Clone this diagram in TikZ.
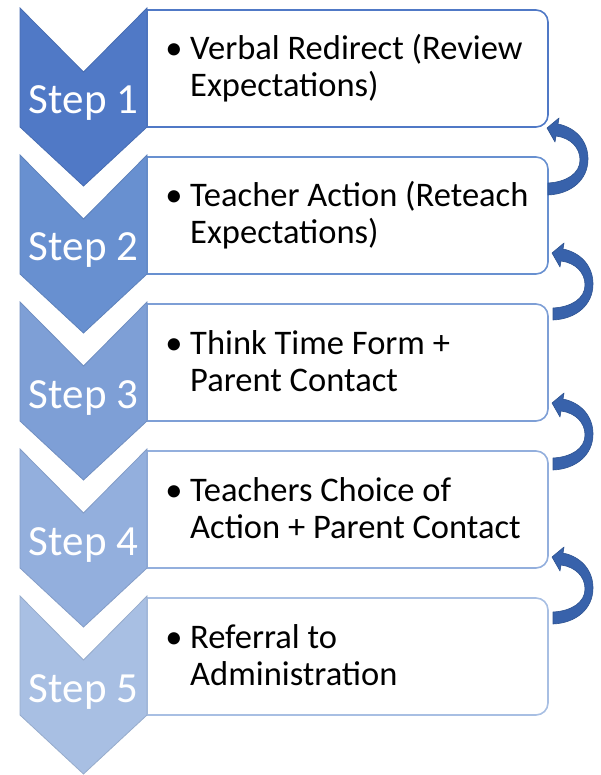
\documentclass[tikz,border=0pt]{standalone}
\usepackage{fontspec}
\setmainfont{Carlito}
\definecolor{cA}{HTML}{5079C6}
\definecolor{cB}{HTML}{6890D0}
\definecolor{cC}{HTML}{7E9FD6}
\definecolor{cD}{HTML}{93AFDD}
\definecolor{cE}{HTML}{A8BFE3}
\definecolor{arrowfill}{HTML}{3862AB}
\definecolor{arrowline}{HTML}{2E5391}
\newcommand\loopback[2]{%
  \begin{scope}[shift={(#1,#2)}]
    \path[backarrow] (0,0) -- (12,-10) -- (11,-4)
      .. controls (30,0) and (41,14) .. (41,31)
      .. controls (41,52) and (24,66) .. (1,67) -- (1,55)
      .. controls (20,54) and (33,45) .. (33,32)
      .. controls (33,20) and (24,10) .. (9,8) -- (8,14) -- cycle;
  \end{scope}}
\begin{document}
\begin{tikzpicture}[x=1pt,y=-1pt,
  chev/.style={fill=#1, draw=#1!90!black, line width=0.8pt, line join=miter},
  stepbox/.style={fill=white, draw=#1, line width=1.6pt},
  steptext/.style={anchor=base, text=white, font=\fontsize{43}{50}\selectfont, inner sep=0pt},
  bul/.style={anchor=base, font=\fontsize{34.5}{37}\selectfont, inner sep=0pt},
  bodytext/.style={anchor=base west, inner sep=0pt, align=left},
  backarrow/.style={fill=arrowfill, draw=arrowline, line width=0.6pt, line join=round}]
\useasboundingbox (0,0) rectangle (601,775);
\foreach \k/\t/\col/\la/\lb in {
  1/8/cA/Verbal Redirect (Review/Expectations),
  2/155/cB/Teacher Action (Reteach/Expectations),
  3/302/cC/Think Time Form +/Parent Contact,
  4/449/cD/Teachers Choice of/Action + Parent Contact,
  5/596/cE/Referral to/Administration}{
  \draw[stepbox=\col] (147,\t+2) -- (520,\t+2) [rounded corners=12pt] -- (548,\t+2) -- (548,\t+119) -- (520,\t+119) [sharp corners] -- (147,\t+119) -- cycle;
  \draw[chev=\col] (20,\t) -- (83.5,\t+64) -- (147,\t) -- (147,\t+119) -- (83.5,\t+178) -- (20,\t+119) -- cycle;
  \node[steptext] (s\k) at (83.5,\t+106) {Step \k};
  \node[bul] (b\k) at (174,\t+52) {•};
  \node[bodytext] (t\k) at (190,\t+52) {\parbox[t]{380pt}{\raggedright\fontsize{34.5}{37}\selectfont \la\\\lb}};
}
\loopback{547}{128}
\loopback{552}{253}
\loopback{552}{403}
\loopback{552}{557}
\end{tikzpicture}
\end{document}
